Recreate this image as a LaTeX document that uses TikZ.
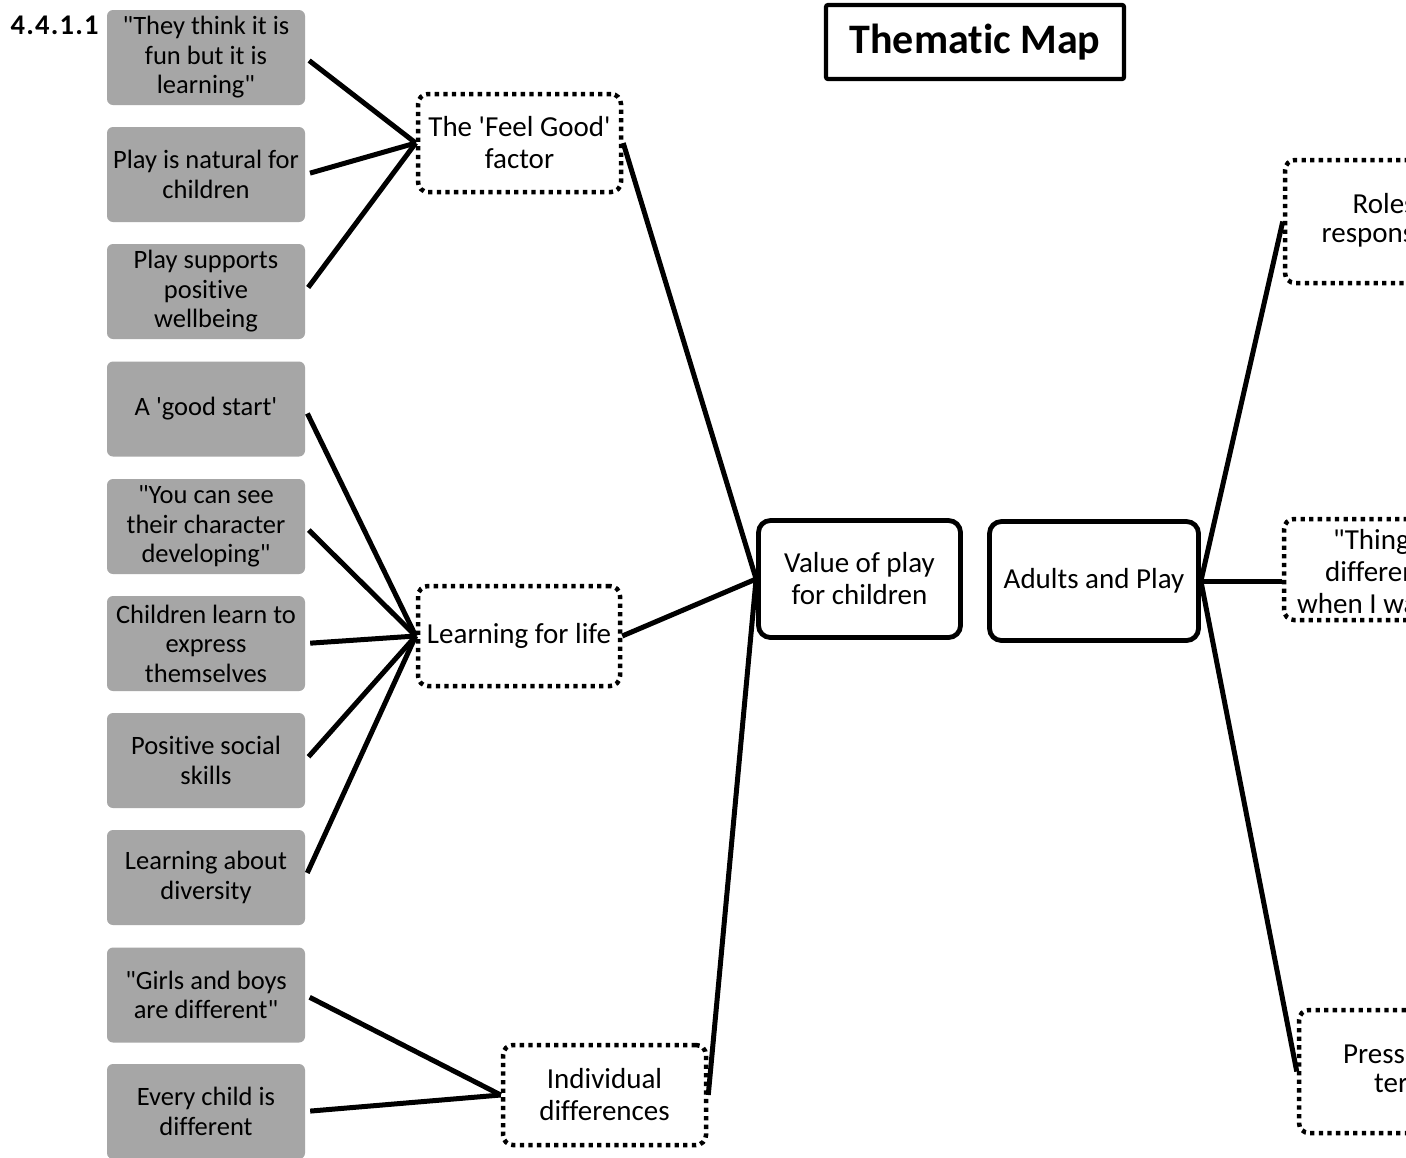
\documentclass[tikz,border=0pt]{standalone}
\usepackage{fontspec}
\newfontfamily\calibri{Carlito}[Ligatures=NoCommon]
\definecolor{boxgray}{HTML}{A6A6A6}
\begin{document}
\begin{tikzpicture}[
  x=1pt, y=-1pt,
  graybox/.style={rectangle, rounded corners=6pt, fill=boxgray, draw=none,
    minimum width=198pt, minimum height=95pt, align=center, inner sep=0pt,
    font=\calibri\fontsize{26.5}{29.5}\selectfont},
  theme/.style={rectangle, rounded corners=10pt, draw=black, line width=4.5pt,
    dash pattern=on 4.3pt off 4.3pt, align=center, inner sep=0pt,
    font=\calibri\fontsize{29}{32}\selectfont},
  core/.style={rectangle, rounded corners=12pt, draw=black, line width=4.8pt,
    align=center, inner sep=0pt, font=\calibri\fontsize{29}{32}\selectfont},
  titlebox/.style={rectangle, rounded corners=2pt, draw=black, line width=4.2pt,
    inner sep=0pt, font=\calibri\fontsize{42}{46}\selectfont\bfseries},
  link/.style={line width=5pt, draw=black},
  frag/.style={anchor=base west, inner sep=0pt, font=\calibri\fontsize{29}{32}\selectfont},
  numstyle/.style={anchor=base west, inner sep=0pt, font=\calibri\bfseries\fontsize{28.5}{31}\selectfont},
]
\clip (0,0) rectangle (1406,1157);
\fill[white] (0,0) rectangle (1406,1157);

% heading number and title
\node[numstyle] (num) at (10.5,34) {4\kern1.2pt.\kern1.2pt4\kern1.2pt.\kern1.2pt1\kern1.2pt.\kern1.2pt1};
\node[titlebox, minimum width=298pt, minimum height=74pt] (title) at (975,42) {Thematic Map};

% grey code boxes
\node[graybox] (g1) at (206,57.5) {"They think it is\\fun but it is\\learning"};
\node[graybox] (g2) at (206,174.5) {Play is natural for\\children};
\node[graybox] (g3) at (206,291.5) {Play supports\\positive\\wellbeing};
\node[graybox] (g4) at (206,409) {A 'good start'};
\node[graybox] (g5) at (206,526.5) {"You can see\\their character\\developing"};
\node[graybox] (g6) at (206,643.5) {Children learn to\\express\\themselves};
\node[graybox] (g7) at (206,760.5) {Positive social\\skills};
\node[graybox] (g8) at (206,877.5) {Learning about\\diversity};
\node[graybox] (g9) at (206,995) {"Girls and boys\\are different"};
\node[graybox] (g10) at (206,1111.5) {Every child is\\different};

% sub-themes (dotted)
\node[theme, minimum width=203pt, minimum height=98pt] (feel) at (519.5,143) {The 'Feel Good'\\factor};
\node[theme, minimum width=202pt, minimum height=100pt] (learn) at (519,636) {Learning for life};
\node[theme, minimum width=203pt, minimum height=100pt] (indiv) at (604.5,1095) {Individual\\differences};
\node[theme, minimum width=220pt, minimum height=123pt] (roles) at (1395,221.5) {};
\node[theme, minimum width=220pt, minimum height=101pt] (things) at (1394,569.5) {};
\node[theme, minimum width=220pt, minimum height=123pt] (press) at (1409,1071.5) {};

% visible parts of the texts cut off by the right edge
\node[frag] (t1) at (1352.5,213) {Roles};
\node[frag] (t2) at (1321.5,242) {respons};
\node[frag] (t3) at (1333,549) {"Thing};
\node[frag] (t4) at (1325,581) {differen};
\node[frag] (t5) at (1297,613) {when I wa};
\node[frag] (t6) at (1343,1063) {Press};
\node[frag] (t7) at (1374,1092) {ter};

% main themes
\node[core, minimum width=202pt, minimum height=117pt] (value) at (859.5,579) {Value of play\\for children};
\node[core, minimum width=209pt, minimum height=119pt] (adults) at (1094,581) {Adults and Play};

% connectors
\foreach \g in {g1,g2,g3} \draw[link, shorten <=5pt] (\g.east) -- (feel.west);
\foreach \g in {g4,g5,g6,g7,g8} \draw[link, shorten <=5pt] (\g.east) -- (learn.west);
\foreach \g in {g9,g10} \draw[link, shorten <=5pt] (\g.east) -- (indiv.west);
\draw[link] (feel.east) -- (value.west);
\draw[link] (learn.east) -- (value.west);
\draw[link] (indiv.east) -- (value.west);
\draw[link] (adults.east) -- (roles.west);
\draw[link] (adults.east) -- (things.west |- adults.east);
\draw[link] (adults.east) -- (press.west);
\end{tikzpicture}
\end{document}
